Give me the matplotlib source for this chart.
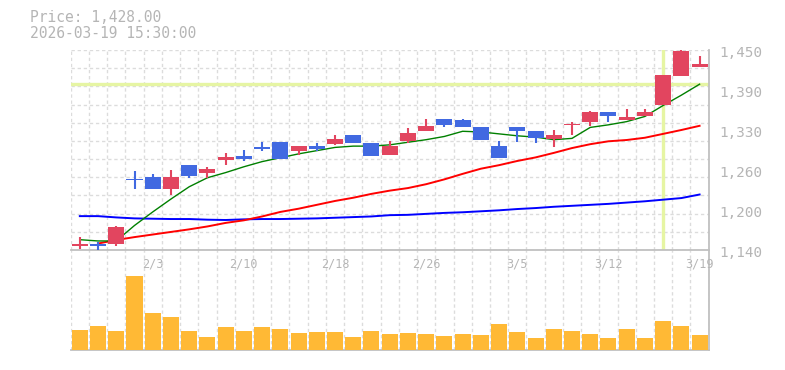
import numpy as np
import matplotlib
matplotlib.use('Agg')
import matplotlib.pyplot as plt

# daily bars, 2026-01-28 .. 2026-03-19
dates = ['1/28', '1/29', '1/30', '2/2', '2/3', '2/4', '2/5', '2/6', '2/9', '2/10',
         '2/12', '2/13', '2/16', '2/17', '2/18', '2/19', '2/20', '2/24', '2/25', '2/26',
         '2/27', '3/2', '3/3', '3/4', '3/5', '3/6', '3/9', '3/10', '3/11', '3/12',
         '3/13', '3/16', '3/17', '3/18', '3/19']
opens = [1146, 1150, 1149, 1250, 1253, 1235, 1271, 1260, 1279, 1286,
         1300, 1308, 1294, 1301, 1305, 1318, 1306, 1288, 1309, 1325,
         1343, 1342, 1331, 1301, 1331, 1325, 1312, 1333, 1339, 1354,
         1341, 1348, 1365, 1410, 1424]
highs = [1160, 1153, 1177, 1263, 1258, 1264, 1271, 1269, 1290, 1295,
         1307, 1308, 1301, 1306, 1318, 1318, 1306, 1309, 1329, 1343,
         1343, 1343, 1331, 1309, 1331, 1325, 1326, 1339, 1356, 1354,
         1359, 1359, 1412, 1452, 1440]
lows = [1141, 1139, 1146, 1235, 1235, 1226, 1252, 1251, 1272, 1278,
        1293, 1281, 1287, 1294, 1303, 1306, 1286, 1288, 1306, 1325,
        1331, 1330, 1311, 1283, 1308, 1306, 1300, 1318, 1332, 1339,
        1341, 1348, 1365, 1410, 1424]
closes = [1150, 1146, 1175, 1248, 1235, 1253, 1254, 1266, 1284, 1281,
          1297, 1281, 1301, 1297, 1312, 1306, 1286, 1301, 1322, 1332,
          1334, 1330, 1311, 1283, 1324, 1313, 1318, 1335, 1354, 1347,
          1346, 1354, 1412, 1448, 1428]
ma_short = [1156, 1154, 1154, 1178, 1199, 1219, 1238, 1252, 1260, 1269,
            1277, 1283, 1289, 1294, 1299, 1301, 1301, 1303, 1307, 1311,
            1316, 1324, 1323, 1320, 1317, 1315, 1311, 1313, 1330, 1334,
            1339, 1347, 1364, 1380, 1397]
ma_mid = [np.nan, 1150, 1155.5, 1160, 1164, 1168, 1172, 1176.5, 1182, 1186,
          1192, 1199, 1204, 1210, 1216, 1221, 1227, 1232, 1236, 1242,
          1249.5, 1258, 1266, 1271.5, 1278, 1283.5, 1290.5, 1298, 1304, 1308.5,
          1310.5, 1314, 1320, 1326, 1332.5]
ma_long = [1192.5, 1192.5, 1190.5, 1189, 1188.5, 1188, 1188, 1187, 1186.5, 1187.5,
           1188, 1188, 1188.5, 1189, 1190, 1191, 1192, 1194, 1194.5, 1196,
           1197.5, 1198.5, 1200, 1201.5, 1203.5, 1205, 1207, 1208.5, 1210, 1211.5,
           1213.5, 1215.5, 1218, 1220.5, 1226]
volume = [190, 230, 180, 725, 355, 315, 180, 120, 220, 180,
          220, 200, 160, 170, 170, 120, 180, 150, 160, 150,
          130, 150, 140, 250, 170, 110, 200, 180, 150, 110,
          200, 110, 280, 230, 140]

price_ticks = [1140, 1202, 1264, 1326, 1388, 1450]
price_labels = ['1,140', '1,200', '1,260', '1,330', '1,390', '1,450']
date_labels = ['2/3', '2/10', '2/18', '2/26', '3/5', '3/12', '3/19']
last_price = '1,428.00'
last_time = '2026-03-19 15:30:00'
cursor_date = '3/17'
cursor_price = 1398

UP = '#e2455f'
DOWN = '#4169e1'
TXT = '#b5b5b5'
GRID = '#dcdcdc'
SPINE = '#c0c0c0'
FONT = 'DejaVu Sans Mono'

x = np.arange(len(dates))
o, h, l, c = map(np.array, (opens, highs, lows, closes))
colors = np.where(c >= o, UP, DOWN)

fig = plt.figure(figsize=(7.85, 3.7), dpi=100)
W, H = 785, 370
axv = fig.add_axes([70.7 / W, 1 - 349.5 / H, 638 / W, 99.5 / H])
ax = fig.add_axes([70.7 / W, 1 - 250 / H, 638 / W, 200 / H])
axv.patch.set_visible(False)


def style_axes(a):
    a.set_xlim(-0.5, len(dates) - 0.5)
    for s in ('left', 'top'):
        a.spines[s].set_visible(False)
    for s in ('right', 'bottom'):
        a.spines[s].set_color(SPINE)
        a.spines[s].set_linewidth(1.3)
    a.set_xticks(np.arange(-0.5, len(dates)), minor=True)
    a.set_xticks([])
    a.set_yticks([])
    a.grid(True, which='minor', axis='x', color=GRID, linestyle=(0, (2.4, 2)), lw=1)
    a.tick_params(which='both', length=0, labelbottom=False, labelleft=False)
    a.set_axisbelow(True)


style_axes(ax)
style_axes(axv)

# price panel
ax.set_ylim(1140, 1450)
ax.set_yticks(np.linspace(1140, 1450, 12), minor=True)
ax.grid(True, which='minor', axis='y', color=GRID, linestyle=(0, (2.4, 2)), lw=1)

ax.axvline(dates.index(cursor_date), color='#e6f5a3', lw=2.4, zorder=1)
ax.axhline(cursor_price, color='#e6f5a3', lw=2.4, zorder=1)

ax.plot(x, ma_long, color='#0000ff', lw=1.4, zorder=2)
ax.plot(x, ma_mid, color='#ff0000', lw=1.4, zorder=2)
ax.plot(x, ma_short, color='#008000', lw=1.0, zorder=2)

ax.vlines(x, l, h, colors=colors, lw=1.5, zorder=3)
body = np.maximum(np.abs(c - o), 1.8)
ax.bar(x, body, bottom=np.minimum(o, c), width=0.88, color=colors, zorder=4)

for v, lbl in zip(price_ticks, price_labels):
    ax.annotate(lbl, xy=(1, v), xycoords=ax.get_yaxis_transform(),
                xytext=(8, -2), textcoords='offset points', ha='left', va='center',
                color=TXT, fontsize=10.3, family=FONT, annotation_clip=False)

for lbl in date_labels:
    ax.annotate(lbl, xy=(dates.index(lbl), 0), xycoords=ax.get_xaxis_transform(),
                xytext=(0, -5.5), textcoords='offset points', ha='center', va='top',
                color=TXT, fontsize=8.5, family=FONT, annotation_clip=False)

# volume panel
axv.bar(x, volume, width=0.88, color='#ffb935', zorder=3)
axv.set_ylim(0, 975)

fig.text(30 / W, 1 - 17 / H, 'Price: ' + last_price, color=TXT, fontsize=10.5,
         family=FONT, va='center', ha='left')
fig.text(30 / W, 1 - 33 / H, last_time, color=TXT, fontsize=10.5,
         family=FONT, va='center', ha='left')

fig.savefig('out.png', dpi=100, facecolor='white')
